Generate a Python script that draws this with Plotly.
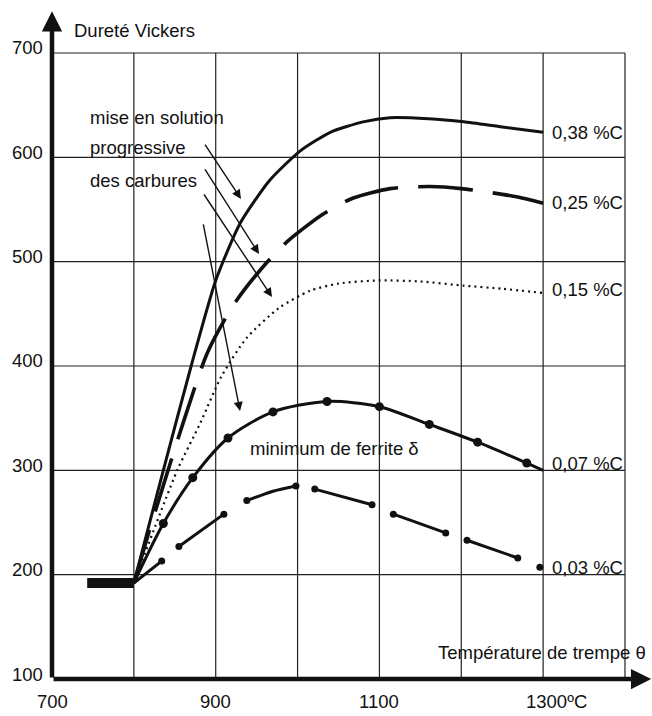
import plotly.graph_objects as go

# ---------------- data ----------------
T38 = [800, 836, 870, 900, 930, 966, 1003, 1040, 1080, 1113, 1160, 1203, 1250, 1300]
H38 = [192, 300, 400, 482, 537, 578, 606, 624, 634, 638, 637, 634, 629, 624]

T25 = [800, 820, 860, 890, 923, 960, 987, 1030, 1068, 1113, 1162, 1200, 1269, 1300]
H25 = [192, 245, 345, 413, 460, 497, 519, 545, 561, 570, 572, 570, 562, 556]

T15 = [800, 853, 881, 907, 938, 978, 1015, 1050, 1100, 1150, 1203, 1250, 1300]
H15 = [192, 300, 345, 390, 427, 456, 472, 479, 482, 481, 477, 474, 470]

T07 = [800, 836, 872, 915, 970, 1036, 1100, 1161, 1220, 1280, 1300]
H07 = [192, 249, 293, 331, 356, 366, 361, 344, 327, 307, 300]
T07_MARK = [836, 872, 915, 970, 1036, 1100, 1161, 1220, 1280]
H07_MARK = [249, 293, 331, 356, 366, 361, 344, 327, 307]

# 0.03 %C : separate segments
T03_SEGS = [[800, 834], [855, 910], [938, 970, 998], [1021, 1091], [1117, 1181], [1207, 1269], [1296]]
H03_SEGS = [[192, 213], [227, 258], [271, 280, 285], [282, 267], [258, 240], [233, 216], [207]]
T03_MARK = [834, 855, 910, 938, 998, 1021, 1091, 1117, 1181, 1207, 1269, 1296]
H03_MARK = [213, 227, 258, 271, 285, 282, 267, 258, 240, 233, 216, 207]

# initial hardness plateau
T_BASE = [743, 800]
H_BASE = [192, 192]

SERIES_LABELS = ["0,38 %C", "0,25 %C", "0,15 %C", "0,07 %C", "0,03 %C"]
LABEL_Y = [624, 557, 473, 307, 207]

X_GRID = [800, 900, 1000, 1100, 1200, 1300, 1400]
Y_GRID = [200, 300, 400, 500, 600, 700]
Y_TICKS = [100, 200, 300, 400, 500, 600, 700]
X_TICKS = [700, 900, 1100, 1300]
X_TICK_TEXT = ["700", "900", "1100", "1300ºC"]

FONT = "Liberation Sans, Arial, Helvetica, sans-serif"
FS = 18.5

fig = go.Figure()

# grid
shapes = []
for gx in X_GRID:
    shapes.append(dict(type="line", xref="x", yref="y", x0=gx, x1=gx, y0=100, y1=700,
                       line=dict(color="#222", width=1.2), layer="below"))
for gy in Y_GRID:
    shapes.append(dict(type="line", xref="x", yref="y", x0=700, x1=1400, y0=gy, y1=gy,
                       line=dict(color="#222", width=1.2), layer="below"))

# curves
fig.add_trace(go.Scatter(x=T_BASE, y=H_BASE, mode="lines",
                         line=dict(color="#111", width=10), hoverinfo="skip"))
fig.add_trace(go.Scatter(x=T38, y=H38, mode="lines",
                         line=dict(color="#111", width=3, shape="spline", smoothing=0.6)))
fig.add_trace(go.Scatter(x=T25, y=H25, mode="lines",
                         line=dict(color="#111", width=3.6, shape="spline", smoothing=0.7, dash="55px,20px")))
fig.add_trace(go.Scatter(x=T15, y=H15, mode="lines",
                         line=dict(color="#111", width=2.2, shape="spline", smoothing=0.7, dash="2px,4px")))
fig.add_trace(go.Scatter(x=T07, y=H07, mode="lines",
                         line=dict(color="#111", width=3, shape="spline", smoothing=0.8)))
fig.add_trace(go.Scatter(x=T07_MARK, y=H07_MARK, mode="markers", marker=dict(color="#111", size=9)))

seg_x, seg_y = [], []
for xs, ys in zip(T03_SEGS, H03_SEGS):
    seg_x += xs + [None]
    seg_y += ys + [None]
fig.add_trace(go.Scatter(x=seg_x, y=seg_y, mode="lines",
                         line=dict(color="#111", width=3, shape="spline", smoothing=0.6), connectgaps=False))
fig.add_trace(go.Scatter(x=T03_MARK, y=H03_MARK, mode="markers", marker=dict(color="#111", size=7)))

ann = []
# axes with arrows
ann.append(dict(x=1432, y=100, ax=700, ay=100, xref="x", yref="y", axref="x", ayref="y",
                text="", showarrow=True, arrowhead=2, arrowsize=0.9, arrowwidth=4.5, arrowcolor="#111"))
ann.append(dict(x=700, y=740, ax=700, ay=100, xref="x", yref="y", axref="x", ayref="y",
                text="", showarrow=True, arrowhead=2, arrowsize=0.9, arrowwidth=4.5, arrowcolor="#111"))

# tick labels
for v in Y_TICKS:
    ann.append(dict(x=700, y=v, xref="x", yref="y", text=str(v), showarrow=False,
                    xanchor="right", yanchor="middle", xshift=-7, yshift=5,
                    font=dict(family=FONT, size=FS, color="#111")))
for v, t in zip(X_TICKS, X_TICK_TEXT):
    if t.endswith("C"):
        ann.append(dict(x=v, y=100, xref="x", yref="y", text=t, showarrow=False,
                        xanchor="left", yanchor="middle", xshift=-19, yshift=-22,
                        font=dict(family=FONT, size=FS, color="#111")))
    else:
        ann.append(dict(x=v, y=100, xref="x", yref="y", text=t, showarrow=False,
                        xanchor="center", yanchor="middle", yshift=-22,
                        font=dict(family=FONT, size=FS, color="#111")))

# series labels
for lab, ly in zip(SERIES_LABELS, LABEL_Y):
    ann.append(dict(x=1308, y=ly, xref="x", yref="y", text=lab, showarrow=False,
                    xanchor="left", yanchor="middle",
                    font=dict(family=FONT, size=FS, color="#111")))

# axis titles and notes
def txt(x, y, t, xanchor="left"):
    ann.append(dict(x=x, y=y, xref="x", yref="y", text=t, showarrow=False,
                    xanchor=xanchor, yanchor="middle",
                    font=dict(family=FONT, size=FS, color="#111")))

txt(725, 722, "Dureté Vickers")
txt(1428, 125, "Température de trempe θ", xanchor="right")
txt(744, 638, "mise en solution")
txt(744, 609, "progressive")
txt(744, 578, "des carbures")
txt(939, 321, "minimum de ferrite δ")

# leader arrows
for (sx, sy, ex, ey) in [(885.7, 613.7, 930.9, 560.1), (885.7, 589.8, 952.9, 507.4),
                         (884.5, 565.8, 968.8, 466.1), (884.5, 537.1, 929.7, 356.9)]:
    ann.append(dict(x=ex, y=ey, ax=sx, ay=sy, xref="x", yref="y", axref="x", ayref="y",
                    text="", showarrow=True, arrowhead=2, arrowsize=1.3, arrowwidth=1.4,
                    arrowcolor="#111"))

fig.update_layout(
    width=652, height=716,
    margin=dict(l=52, r=0, t=10, b=37),
    paper_bgcolor="white", plot_bgcolor="white",
    showlegend=False,
    shapes=shapes, annotations=ann,
    xaxis=dict(range=[700, 1433], showgrid=False, zeroline=False, showticklabels=False,
               showline=False, ticks="", fixedrange=True),
    yaxis=dict(range=[100, 741.2], showgrid=False, zeroline=False, showticklabels=False,
               showline=False, ticks="", fixedrange=True),
    font=dict(family=FONT, size=FS, color="#111"),
)

fig.write_html("out.html")
